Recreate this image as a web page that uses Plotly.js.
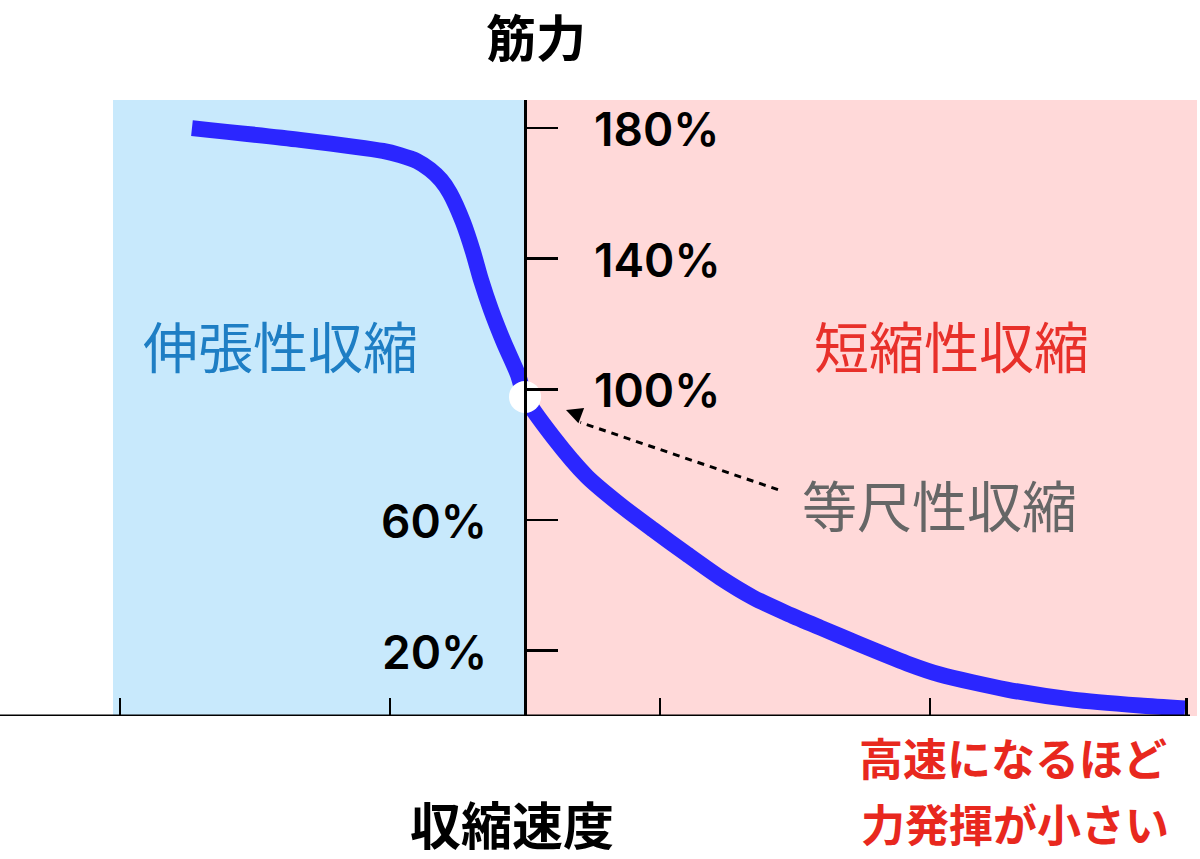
<!DOCTYPE html>
<html><head><meta charset="utf-8">
<script src="https://cdn.plot.ly/plotly-3.0.1.min.js"></script>
<style>html,body{margin:0;padding:0;background:#fff}</style>
</head><body><div id="chart" style="width:1200px;height:859px"></div>
<script>
// Force-velocity curve (x: contraction velocity, arbitrary units; y: force %)
const velocity = [-2.467,-1.667,-1.052,-0.926,-0.8,-0.704,-0.622,-0.556,-0.459,-0.385,-0.326,-0.252,-0.156,-0.052,0,0.207,0.459,0.704,0.948,1.2,1.444,1.689,1.941,2.185,2.481,2.83,3.074,3.57,4.059,4.556,4.889];
const force    = [180,176.4,173.0,171.7,169.9,167.3,164.1,160.1,151.2,142.1,133.5,124.4,114.3,104.5,97.7,85.5,73.3,64.7,57.1,49.5,42.4,36.3,31.4,27.1,21.9,16.1,12.7,8.1,5.0,3.2,2.3];
const isoVelocity = [0];
const isoForce = [97.7];
const xTickVals = [-3,-1,1,3,4.9];
const yTickVals = [20,60,100,140,180];
const yTickLabels = ['20%','60%','100%','140%','180%'];
const yLabelSide = ['left','left','right','right','right'];
const eccentricRange = [-3.052, 0];
const concentricRange = [0, 4.978];
const titleY = '筋力';
const titleX = '収縮速度';
const eccLabel = '伸張性収縮';
const conLabel = '短縮性収縮';
const isoLabel = '等尺性収縮';
const noteLines = ['高速になるほど','力発揮が小さい'];

const JP = '"Noto Sans CJK JP", "Noto Sans", sans-serif';
const NUM = 'Inter, "Noto Sans", sans-serif';

// plot area in pixels: x 0..1197, y 100..716
const px = (x) => x/1197;
const py = (y) => (716 - y)/616;

const traces = [
  {x: velocity, y: force, type:'scatter', mode:'lines',
   line:{color:'#2B26FF', width:16, shape:'spline', smoothing:0.7},
   cliponaxis:false, hoverinfo:'skip'},
  {x: isoVelocity, y: isoForce, type:'scatter', mode:'markers',
   marker:{color:'#ffffff', size:32, line:{width:0}}, cliponaxis:false, hoverinfo:'skip'}
];

const annotations = [];
yTickVals.forEach((v,i)=>{
  const right = yLabelSide[i]==='right';
  annotations.push({x:0, y:v, xref:'x', yref:'y', text:yTickLabels[i], showarrow:false,
    xanchor: right?'left':'right', yanchor:'middle', xshift: right?67:-36, yshift:-1,
    font:{family:NUM, size:46, color:'#000', weight:600}});
});
annotations.push({x:px(512), y:py(823), xref:'paper', yref:'paper', text:'<b>'+titleX+'</b>', showarrow:false,
  xanchor:'center', yanchor:'middle', font:{family:JP, size:51, color:'#000'}});
annotations.push({x:-1.808, y:114, xref:'x', yref:'y', text:eccLabel, showarrow:false,
  xanchor:'center', yanchor:'middle', font:{family:JP, size:55, color:'#1E7EC4'}});
annotations.push({x:3.163, y:114, xref:'x', yref:'y', text:conLabel, showarrow:false,
  xanchor:'center', yanchor:'middle', font:{family:JP, size:55, color:'#E8302A'}});
annotations.push({x:3.074, y:65.3, xref:'x', yref:'y', text:isoLabel, showarrow:false,
  xanchor:'center', yanchor:'middle', font:{family:JP, size:55, color:'#666666'}});
annotations.push({x:px(1013), y:py(757), xref:'paper', yref:'paper', text:'<b>'+noteLines[0]+'</b>', showarrow:false,
  xanchor:'center', yanchor:'middle', font:{family:JP, size:44, color:'#E8281E'}});
annotations.push({x:px(1015), y:py(823), xref:'paper', yref:'paper', text:'<b>'+noteLines[1]+'</b>', showarrow:false,
  xanchor:'center', yanchor:'middle', font:{family:JP, size:44, color:'#E8281E'}});
// arrowhead of the isometric pointer
annotations.push({x:0.304, y:93.7, xref:'x', yref:'y', ax:15, ay:5.6, axref:'pixel', ayref:'pixel',
  text:'', showarrow:true, arrowhead:2, arrowsize:1.3, arrowwidth:2.5, arrowcolor:'#000', standoff:0});

const shapes = [
  {type:'rect', xref:'x', yref:'paper', x0:eccentricRange[0], x1:eccentricRange[1], y0:0, y1:1,
   fillcolor:'#C8E9FC', line:{width:0}, layer:'below'},
  {type:'rect', xref:'x', yref:'paper', x0:concentricRange[0], x1:concentricRange[1], y0:0, y1:1,
   fillcolor:'#FFD9D9', line:{width:0}, layer:'below'},
  {type:'line', xref:'paper', yref:'y', x0:0, x1:px(1190), y0:0, y1:0,
   line:{color:'#000', width:3}},
  {type:'line', xref:'x', yref:'y', x0:1.874, y0:69.3, x1:0.41, y1:89.9,
   line:{color:'#000', width:3, dash:'7px,6px'}}
];

const layout = {
  width:1200, height:859,
  margin:{l:0, r:3, t:100, b:143, pad:0},
  paper_bgcolor:'#ffffff', plot_bgcolor:'rgba(0,0,0,0)',
  showlegend:false,
  title:{text:'<b>'+titleY+'</b>', font:{family:JP, size:50, color:'#000'},
         x:536/1200, xref:'container', xanchor:'center', y:1-39/859, yref:'container', yanchor:'middle'},
  xaxis:{range:[-3.889, 4.978], showgrid:false, zeroline:false, showline:false,
         ticks:'inside', ticklen:18, tickwidth:2.5, tickcolor:'#000',
         tickmode:'array', tickvals:xTickVals, showticklabels:false, fixedrange:true},
  yaxis:{range:[0, 188.6], showgrid:false, zeroline:false, showline:true, linecolor:'#000', linewidth:3,
         anchor:'free', position:525/1197, side:'right',
         ticks:'outside', ticklen:31, tickwidth:2.5, tickcolor:'#000',
         tickmode:'array', tickvals:yTickVals, showticklabels:false, fixedrange:true},
  shapes: shapes,
  annotations: annotations
};

Plotly.newPlot('chart', traces, layout, {displayModeBar:false, staticPlot:true});
</script></body></html>
